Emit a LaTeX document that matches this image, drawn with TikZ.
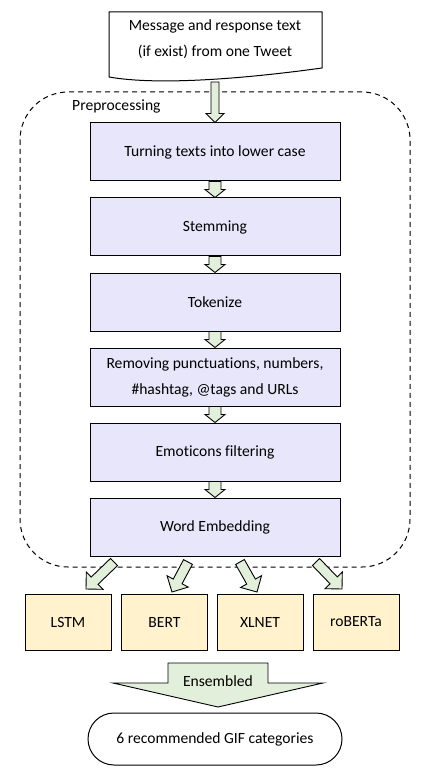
\documentclass[tikz,border=0pt]{standalone}
\usepackage{fontspec}
\setmainfont{Carlito}[Ligatures=NoCommon]
\usetikzlibrary{calc}
\definecolor{boxfill}{RGB}{232,230,250}
\definecolor{arrfill}{RGB}{226,239,218}
\definecolor{modfill}{RGB}{255,242,204}
\tikzset{
  stepbox/.style={draw=black, line width=1pt, fill=boxfill, minimum width=250pt, minimum height=58pt, inner sep=0pt, align=center, font=\fontsize{15.6}{26}\selectfont},
  modbox/.style={draw=black, line width=1pt, fill=modfill, minimum width=86pt, minimum height=56pt, inner sep=0pt, font=\fontsize{15.6}{20}\selectfont},
  arrsty/.style={draw=black, line width=0.9pt, fill=arrfill, line join=miter},
  txt/.style={font=\fontsize{15.6}{26}\selectfont, inner sep=0pt},
}
% start, end, shaft half width, head half width, head length
\newcommand\blockarr[5]{%
  \coordinate (hh) at ($(#2)!#5!(#1)$);
  \draw[arrsty] ($(#1)!#3!90:(#2)$) -- ($(hh)!#3!90:(#2)$) -- ($(hh)!#4!90:(#2)$) -- (#2)
    -- ($(hh)!#4!-90:(#2)$) -- ($(hh)!#3!-90:(#2)$) -- ($(#1)!#3!-90:(#2)$) -- cycle;
}
\begin{document}
\begin{tikzpicture}[x=1pt,y=-1pt]
\useasboundingbox (0,0) rectangle (429,783);
% dashed container
\draw[line width=1pt, dash pattern=on 5pt off 4pt, rounded corners=48pt] (20,92) rectangle (410,567);
\node[txt, anchor=west] (pre) at (72,106) {Preprocessing};
% document shape
\draw[line width=1pt, fill=white] (109,12) -- (322,12) -- (322,68)
  .. controls (250,78) and (160,86) .. (109,77) -- cycle;
\node[txt, align=center] (doc) at (215,39) {Message and response text\\(if exist) from one Tweet};
\coordinate (docb) at (215,82);
% steps
\node[stepbox] (b1) at (215,152) {Turning texts into lower case};
\node[stepbox] (b2) at (215,227) {Stemming};
\node[stepbox] (b3) at (215,302) {Tokenize};
\node[stepbox] (b4) at (215,377) {Removing punctuations, numbers,\\\#hashtag, @tags and URLs};
\node[stepbox] (b5) at (215,452) {Emoticons filtering};
\node[stepbox] (b6) at (215,527) {Word Embedding};
% arrows
\blockarr{docb}{b1.north}{4pt}{9pt}{9pt}
\blockarr{b1.south}{b2.north}{6pt}{10pt}{8pt}
\blockarr{b2.south}{b3.north}{6pt}{10pt}{8pt}
\blockarr{b3.south}{b4.north}{6pt}{10pt}{8pt}
\blockarr{b4.south}{b5.north}{6pt}{10pt}{8pt}
\blockarr{b5.south}{b6.north}{6pt}{10pt}{8pt}
% models
\node[modbox] (m1) at (68,622) {LSTM};
\node[modbox] (m2) at (164.5,622) {BERT};
\node[modbox] (m3) at (260,622) {XLNET};
\node[modbox] (m4) at (356,622) {roBERTa};
\coordinate (s1) at (114,562); \coordinate (t1) at (86,589);
\coordinate (s2) at (188,562); \coordinate (t2) at (172,592);
\coordinate (s3) at (240,562); \coordinate (t3) at (257,592);
\coordinate (s4) at (316,562); \coordinate (t4) at (342,589);
\blockarr{s1}{t1}{5pt}{12pt}{12pt}
\blockarr{s2}{t2}{5pt}{12pt}{12pt}
\blockarr{s3}{t3}{5pt}{12pt}{12pt}
\blockarr{s4}{t4}{5pt}{12pt}{12pt}
% ensembled
\draw[arrsty] (168,663) -- (268,663) -- (268,683) -- (323,683) -- (218,707) -- (113,683) -- (168,683) -- cycle;
\node[txt] (ens) at (218,681) {Ensembled};
% result
\node[draw=black, line width=1pt, fill=white, rounded corners=26pt, minimum width=254pt, minimum height=52pt, txt] (res) at (215,739) {6 recommended GIF categories};
\end{tikzpicture}
\end{document}
